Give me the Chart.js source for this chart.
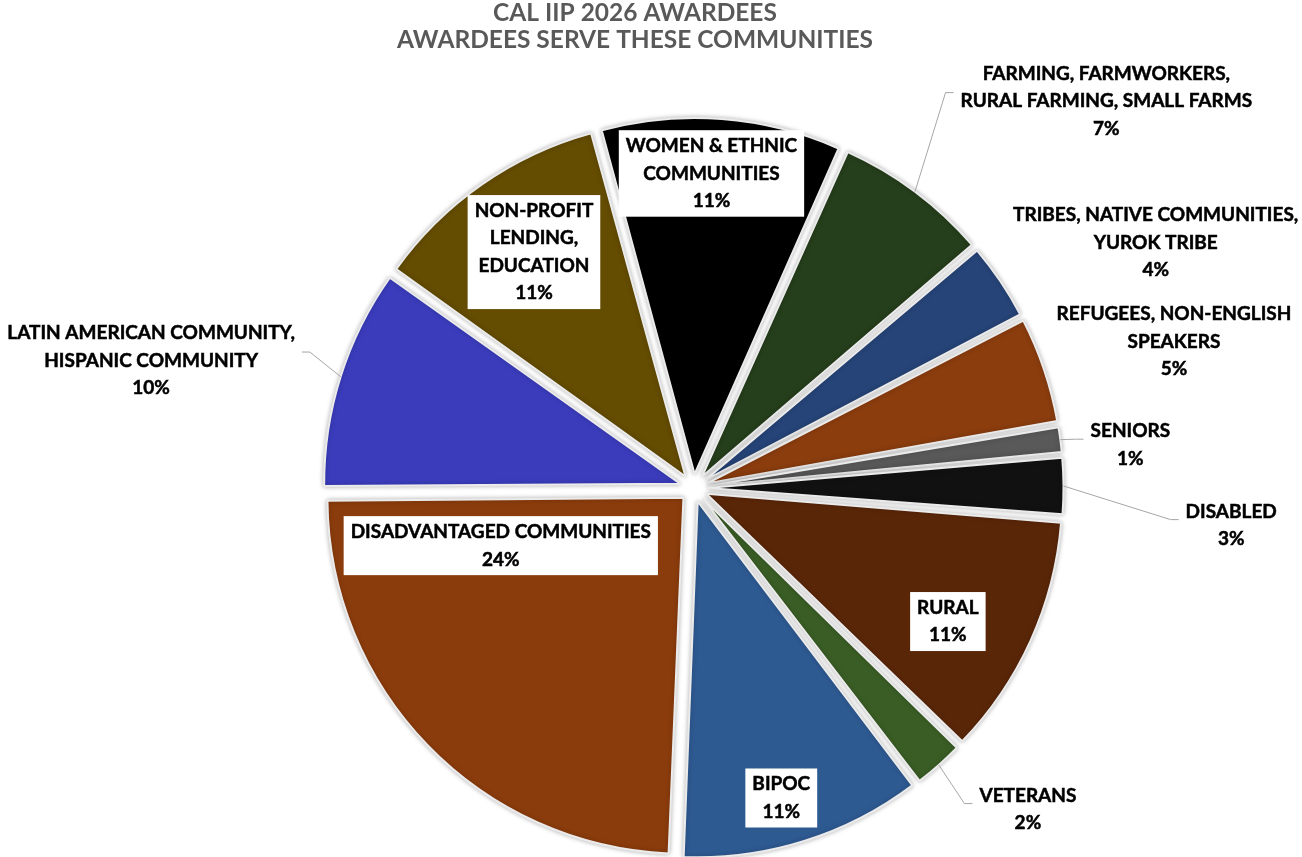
<!DOCTYPE html>
<html>
<head>
<meta charset="utf-8">
<script src="https://cdn.jsdelivr.net/npm/chart.js@4/dist/chart.umd.min.js"></script>
<style>
  html, body { margin: 0; padding: 0; background: #ffffff; }
  #wrap { width: 1302px; height: 857px; }
</style>
</head>
<body>
<div id="wrap"><canvas id="c" width="1302" height="857"></canvas></div>
<script>
// ---- data ----
const chartTitle = ['CAL IIP 2026 AWARDEES', 'AWARDEES SERVE THESE COMMUNITIES'];
const categories = [
  ['WOMEN & ETHNIC', 'COMMUNITIES'],
  ['FARMING, FARMWORKERS,', 'RURAL FARMING, SMALL FARMS'],
  ['TRIBES, NATIVE COMMUNITIES,', 'YUROK TRIBE'],
  ['REFUGEES, NON-ENGLISH', 'SPEAKERS'],
  ['SENIORS'],
  ['DISABLED'],
  ['RURAL'],
  ['VETERANS'],
  ['BIPOC'],
  ['DISADVANTAGED COMMUNITIES'],
  ['LATIN AMERICAN COMMUNITY,', 'HISPANIC COMMUNITY'],
  ['NON-PROFIT', 'LENDING,', 'EDUCATION']
];
const shares = [10.9, 7.1, 3.6, 4.9, 1.3, 2.7, 11.0, 2.4, 11.0, 24.2, 10.0, 10.9];

// ---- styles ----
const sliceColors = ['#000000', '#253E1B', '#264478', '#8B3D0E', '#595959', '#111111',
                     '#5A2608', '#3A5D25', '#2E5A92', '#8B3C0C', '#3A3CBC', '#644C00'];
// label placement: angle shift from the slice mid-angle (deg), distance as a fraction of radius,
// whether the label has a white box, whether it has a leader line
const labelPlacement = [
  { dAngle: -1.1, dist: 0.885, boxed: true,  leader: false },
  { dAngle: 10.1, dist: 1.589, boxed: false, leader: true  },
  { dAngle: 6.0,  dist: 1.470, boxed: false, leader: false },
  { dAngle: 1.7,  dist: 1.411, boxed: false, leader: false },
  { dAngle: 1.9,  dist: 1.233, boxed: false, leader: true  },
  { dAngle: 4.3,  dist: 1.514, boxed: false, leader: true  },
  { dAngle: 3.35, dist: 0.807, boxed: true,  leader: false },
  { dAngle: -4.6, dist: 1.303, boxed: false, leader: true  },
  { dAngle: 1.6,  dist: 0.905, boxed: true,  leader: false },
  { dAngle: 27.4, dist: 0.565, boxed: true,  leader: false },
  { dAngle: -4.3, dist: 1.565, boxed: false, leader: true  },
  { dAngle: 0.8,  dist: 0.800, boxed: true,  leader: false }
];
const LABEL_FONT = 'bold 19px Lato';
const LINE_H = 27.5;
const PAD_X = 7;
const TITLE_FONT = 'bold 24.5px Lato';
const TITLE_CENTER_X = 635;
const TITLE_LINE_H = 27;

// keep every slice at the same outer radius despite the explode offset
const evenRadiusPlugin = {
  id: 'evenRadius',
  afterDatasetsUpdate(chart) {
    const meta = chart.getDatasetMeta(0);
    meta.data.forEach(arc => {
      const off = (arc.options.offset || 0) / 4;
      const fix = 1 - Math.sin(Math.min(Math.PI, arc.circumference));
      arc.outerRadius = arc.outerRadius - off * fix;
    });
  }
};

const shadowPlugin = {
  id: 'softShadow',
  beforeDatasetsDraw(chart) {
    const ctx = chart.ctx;
    ctx.save();
    ctx.shadowColor = 'rgba(0,0,0,0.28)';
    ctx.shadowBlur = 5;
  },
  afterDatasetsDraw(chart) {
    chart.ctx.restore();
  }
};

const titlePlugin = {
  id: 'offsetTitle',
  afterDraw(chart) {
    const ctx = chart.ctx;
    ctx.save();
    ctx.font = TITLE_FONT;
    ctx.fillStyle = '#595959';
    ctx.textAlign = 'center';
    ctx.textBaseline = 'middle';
    chartTitle.forEach((t, k) => ctx.fillText(t, TITLE_CENTER_X, TITLE_LINE_H * (k + 0.5)));
    ctx.restore();
  }
};

const sliceLabelPlugin = {
  id: 'sliceLabels',
  afterDatasetsDraw(chart) {
    const ctx = chart.ctx;
    const meta = chart.getDatasetMeta(0);
    const R = meta.controller.outerRadius;
    const total = shares.reduce((a, b) => a + b, 0);
    ctx.save();
    ctx.font = LABEL_FONT;
    ctx.textAlign = 'center';
    ctx.textBaseline = 'middle';
    meta.data.forEach((arc, i) => {
      const p = labelPlacement[i];
      const mid = (arc.startAngle + arc.endAngle) / 2;
      const ang = mid + p.dAngle * Math.PI / 180;
      const cx = arc.x + Math.cos(ang) * R * p.dist;
      const cy = arc.y + Math.sin(ang) * R * p.dist;
      const lines = categories[i].concat([Math.round(shares[i] / total * 100) + '%']);
      const w = Math.max(...lines.map(t => ctx.measureText(t).width));
      const h = lines.length * LINE_H;
      const bx = cx - w / 2 - PAD_X, bw = w + 2 * PAD_X;
      const by = cy - h / 2 - 2, bh = h + 4;
      if (p.boxed) {
        ctx.fillStyle = '#ffffff';
        ctx.fillRect(bx, by, bw, bh);
      }
      if (p.leader) {
        const off = (arc.options.offset || 0) / 4;
        const sx = arc.x + Math.cos(mid) * (off + R);
        const sy = arc.y + Math.sin(mid) * (off + R);
        const leftSide = cx > sx;
        const ex = leftSide ? bx : bx + bw;
        const ey = by + bh * 0.4;
        const elx = leftSide ? ex - 8 : ex + 8;
        ctx.strokeStyle = '#a6a6a6';
        ctx.lineWidth = 1;
        ctx.beginPath();
        ctx.moveTo(sx, sy);
        ctx.lineTo(elx, ey);
        ctx.lineTo(ex, ey);
        ctx.stroke();
      }
      ctx.fillStyle = '#000000';
      ctx.strokeStyle = '#000000';
      ctx.lineWidth = 0.5;
      lines.forEach((t, k) => {
        const ty = cy - h / 2 + LINE_H * (k + 0.5);
        ctx.fillText(t, cx, ty);
        ctx.strokeText(t, cx, ty);
      });
    });
    ctx.restore();
  }
};

function build() {
  new Chart(document.getElementById('c'), {
    type: 'pie',
    data: {
      labels: categories,
      datasets: [{
        data: shares,
        backgroundColor: sliceColors,
        borderColor: '#ebebeb',
        borderWidth: 2,
        offset: 56,
        radius: 356,
        clip: false
      }]
    },
    options: {
      responsive: false,
      animation: false,
      events: [],
      rotation: -15.25,
      layout: { padding: { left: 85, right: 0, top: 119, bottom: 0 } },
      plugins: {
        legend: { display: false },
        tooltip: { enabled: false },
        title: { display: false }
      }
    },
    plugins: [evenRadiusPlugin, shadowPlugin, sliceLabelPlugin, titlePlugin]
  });
}
if (document.fonts && document.fonts.load) {
  Promise.all([document.fonts.load('bold 19px Lato'), document.fonts.load('bold 24px Lato')])
    .then(build, build);
} else { build(); }
</script>
</body>
</html>
